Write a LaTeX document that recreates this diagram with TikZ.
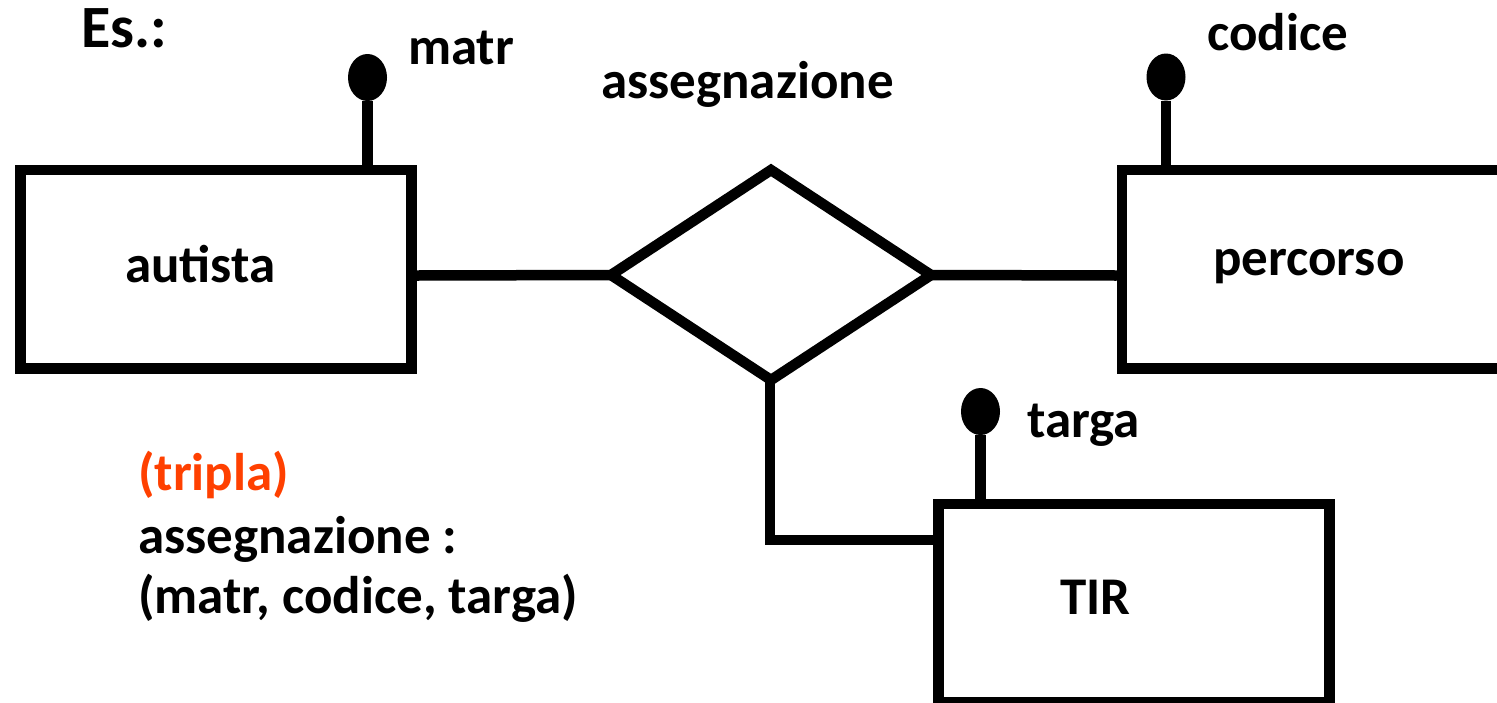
\documentclass[tikz,border=0pt]{standalone}
\usepackage{fontspec}
\setmainfont{Carlito}
\usetikzlibrary{shapes.geometric}
\definecolor{triplared}{RGB}{255,64,0}
\tikzset{
  er/.style={draw=black, line width=10.5pt, line join=miter},
  entitybox/.style={er, rectangle, inner sep=0pt},
  relbox/.style={er, diamond, inner sep=0pt, outer sep=0pt},
  conn/.style={line width=10.5pt, line cap=butt},
  keydot/.style={ellipse, fill=black, minimum width=39pt, minimum height=47pt, inner sep=0pt},
  lbl/.style={anchor=base west, inner sep=0pt, font=\fontsize{53}{64}\selectfont\bfseries},
}
\begin{document}
\begin{tikzpicture}[x=1pt,y=-1pt]
\useasboundingbox (0,0) rectangle (1497,702);
\clip (0,0) rectangle (1497,702);
\fill[white] (0,0) rectangle (1497,702);
% entities
\node[entitybox, minimum width=391pt, minimum height=198.5pt] (autista) at (216,269) {};
\node[entitybox, minimum width=420pt, minimum height=198.5pt] (percorso) at (1332,269) {};
\node[entitybox, minimum width=391pt, minimum height=198.5pt] (tir) at (1134,603) {};
% relationship
\node[relbox, minimum width=320pt, minimum height=210pt] (rel) at (771,275) {};
% connectors
\draw[conn] (autista.east |- 0,275.5) -- (rel.west);
\draw[conn] (rel.east) -- (percorso.west |- 0,275.5);
\coordinate (bend) at (770,540);
\draw[er] (rel.south -| bend) -- (bend) -- (tir.west |- bend);
% keys
\node[keydot] (kmatr) at (367.5,77.5) {};
\draw[conn] (kmatr.south) -- (kmatr.south |- autista.north);
\node[keydot] (kcod) at (1166,77) {};
\draw[conn] (kcod.south) -- (kcod.south |- percorso.north);
\node[keydot] (ktarga) at (980.5,411.5) {};
\draw[conn] (ktarga.south) -- (ktarga.south |- tir.north);
% labels
\node[lbl, font=\fontsize{60}{72}\selectfont\bfseries] (es) at (81,47) {Es.:};
\node[lbl] (tmatr) at (408,64) {matr};
\node[lbl] (tcod) at (1207,50) {codice};
\node[lbl] (trel) at (601,98) {assegnazione};
\node[lbl] (taut) at (125,282) {autista};
\node[lbl] (tperc) at (1213,275) {percorso};
\node[lbl] (ttarga) at (1027,437) {targa};
\node[lbl] (ttir) at (1060,614) {TIR};
\node[lbl, text=triplared] (ttrip) at (138,490) {(tripla)};
\node[lbl] (tass) at (138,553) {assegnazione :};
\node[lbl] (ttuple) at (138,613) {(matr, codice, targa)};
\end{tikzpicture}
\end{document}
